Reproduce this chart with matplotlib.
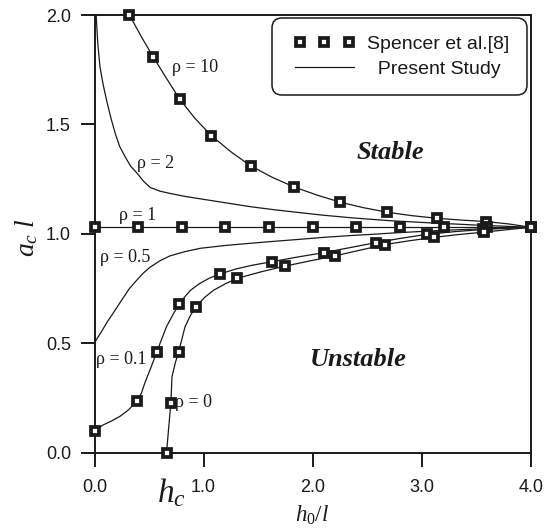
import matplotlib
matplotlib.use('Agg')
import matplotlib.pyplot as plt
from matplotlib.lines import Line2D
from matplotlib.legend_handler import HandlerLine2D

plt.rcParams['font.family'] = ['Liberation Sans', 'DejaVu Sans']
plt.rcParams['mathtext.fontset'] = 'custom'
plt.rcParams['mathtext.it'] = 'Liberation Serif:italic'
plt.rcParams['mathtext.rm'] = 'Liberation Serif'
plt.rcParams['mathtext.bf'] = 'Liberation Serif:bold'

# ---------------- data ----------------
x_ticks = [0.0, 1.0, 2.0, 3.0, 4.0]
y_ticks = [0.0, 0.5, 1.0, 1.5, 2.0]

# Spencer et al. [8] (square markers)
sp10_x = [0.32, 0.54, 0.78, 1.07, 1.43, 1.83, 2.25, 2.68, 3.14, 3.59, 4.0]
sp10_y = [2.00, 1.807, 1.616, 1.449, 1.311, 1.214, 1.145, 1.099, 1.071, 1.056, 1.03]
sp1_x = [0.0, 0.4, 0.8, 1.2, 1.6, 2.0, 2.4, 2.8, 3.2, 3.6, 4.0]
sp1_y = [1.03, 1.03, 1.03, 1.03, 1.03, 1.03, 1.03, 1.03, 1.03, 1.03, 1.03]
sp01_x = [0.0, 0.39, 0.57, 0.775, 1.15, 1.63, 2.10, 2.58, 3.05, 3.56, 4.0]
sp01_y = [0.10, 0.236, 0.459, 0.678, 0.817, 0.873, 0.914, 0.960, 0.998, 1.020, 1.03]
sp0_x = [0.66, 0.70, 0.77, 0.93, 1.31, 1.75, 2.20, 2.66, 3.11, 3.57, 4.0]
sp0_y = [0.0, 0.228, 0.459, 0.667, 0.797, 0.853, 0.899, 0.951, 0.984, 1.008, 1.03]

# Present Study (solid lines)
ps10_x = [0.32, 0.43, 0.54, 0.66, 0.78, 0.92, 1.07, 1.25, 1.43, 1.63, 1.83, 2.04, 2.25,
          2.46, 2.68, 2.91, 3.14, 3.36, 3.59, 3.8, 4.0]
ps10_y = [2.00, 1.90, 1.807, 1.71, 1.616, 1.528, 1.449, 1.375, 1.311, 1.258, 1.214, 1.177,
          1.145, 1.12, 1.099, 1.083, 1.071, 1.063, 1.056, 1.045, 1.03]
ps2_x = [0.015, 0.03, 0.05, 0.08, 0.11, 0.15, 0.19, 0.23, 0.28, 0.33, 0.39, 0.45, 0.51, 0.6,
         0.69, 0.83, 0.97, 1.2, 1.43, 1.65, 1.88, 2.1, 2.34, 2.52, 2.71, 2.9, 3.08, 3.3, 3.5,
         3.75, 4.0]
ps2_y = [2.00, 1.87, 1.764, 1.68, 1.612, 1.53, 1.459, 1.40, 1.353, 1.31, 1.277, 1.24, 1.212,
         1.195, 1.185, 1.171, 1.160, 1.142, 1.124, 1.110, 1.097, 1.085, 1.074, 1.067, 1.060,
         1.055, 1.050, 1.045, 1.040, 1.035, 1.03]
ps1_x = [0.0, 4.0]
ps1_y = [1.03, 1.03]
ps05_x = [0.0, 0.06, 0.12, 0.19, 0.25, 0.32, 0.39, 0.45, 0.51, 0.6, 0.69, 0.83, 0.97, 1.2,
          1.43, 1.65, 1.88, 2.1, 2.34, 2.55, 2.77, 3.0, 3.2, 3.4, 3.6, 3.8, 4.0]
ps05_y = [0.503, 0.55, 0.60, 0.652, 0.698, 0.75, 0.79, 0.822, 0.848, 0.877, 0.899, 0.919,
          0.934, 0.947, 0.957, 0.966, 0.975, 0.984, 0.992, 0.998, 1.005, 1.011, 1.016, 1.020,
          1.024, 1.027, 1.03]
ps01_x = [0.0, 0.08, 0.16, 0.23, 0.31, 0.39, 0.43, 0.46, 0.52, 0.57, 0.62, 0.66, 0.72,
          0.775, 0.83, 0.88, 0.96, 1.05, 1.15, 1.3, 1.45, 1.63, 1.86, 2.10, 2.34, 2.58, 2.8,
          3.05, 3.3, 3.56, 3.8, 4.0]
ps01_y = [0.10, 0.127, 0.146, 0.165, 0.195, 0.236, 0.272, 0.317, 0.393, 0.459, 0.525, 0.576,
          0.632, 0.678, 0.714, 0.742, 0.772, 0.797, 0.817, 0.840, 0.857, 0.873, 0.894, 0.914,
          0.937, 0.960, 0.979, 0.998, 1.010, 1.020, 1.026, 1.03]
ps0_x = [0.66, 0.68, 0.70, 0.71, 0.74, 0.77, 0.83, 0.88, 0.93, 1.01, 1.09, 1.2, 1.31, 1.53,
         1.75, 1.98, 2.20, 2.43, 2.66, 2.88, 3.11, 3.34, 3.57, 3.8, 4.0]
ps0_y = [0.0, 0.115, 0.228, 0.347, 0.41, 0.459, 0.576, 0.628, 0.667, 0.71, 0.742, 0.772,
         0.797, 0.827, 0.853, 0.877, 0.899, 0.925, 0.951, 0.968, 0.984, 0.997, 1.008, 1.02, 1.03]

rho_labels = ['\u03c1 = 10', '\u03c1 = 2', '\u03c1 = 1', '\u03c1 = 0.5', '\u03c1 = 0.1', '\u03c1 = 0']
rho_label_x = [0.71, 0.39, 0.22, 0.05, 0.015, 0.74]
rho_label_y = [1.762, 1.323, 1.086, 0.89, 0.427, 0.228]

legend_labels = ['Spencer et al.[8]', '  Present Study']

# ---------------- figure ----------------
W, H = 554, 530
fig = plt.figure(figsize=(W / 100, H / 100), dpi=100)
L, R, T, B = 94.5, 531.0, 15.0, 452.7
ax = fig.add_axes([L / W, 1 - B / H, (R - L) / W, (B - T) / H])
ax.set_xlim(0, 4)
ax.set_ylim(0, 2)

ink = '#1a1a1a'
lw_line = 0.9
for xs, ys in [(ps10_x, ps10_y), (ps2_x, ps2_y), (ps1_x, ps1_y), (ps05_x, ps05_y),
               (ps01_x, ps01_y), (ps0_x, ps0_y)]:
    ax.plot(xs, ys, color=ink, lw=lw_line, zorder=2)

mk = dict(ls='none', marker='s', ms=5.4, mfc='white', mec=ink, mew=2.7, clip_on=False, zorder=4)
for xs, ys in [(sp10_x, sp10_y), (sp1_x, sp1_y), (sp01_x, sp01_y), (sp0_x, sp0_y)]:
    ax.plot(xs, ys, **mk)

for s, x, y in zip(rho_labels, rho_label_x, rho_label_y):
    ax.text(x, y, s, fontsize=13, family='Liberation Serif', color=ink,
            ha='left', va='center', zorder=5)

ax.text(2.71, 1.37, 'Stable', fontsize=19, family='Liberation Serif', weight='bold',
        style='italic', color=ink, ha='center', va='center')
ax.text(2.42, 0.424, 'Unstable', fontsize=19, family='Liberation Serif', weight='bold',
        style='italic', color=ink, ha='center', va='center')

# axis labels
ax.text(1.838, -0.317, r'$h_0/l$', fontsize=16.5, color=ink, ha='left', va='baseline',
        clip_on=False)
ax.text(0.573, -0.224, r'$h_c$', fontsize=24, color=ink, ha='left', va='baseline',
        clip_on=False)
ax.text(-0.619, 0.981, r'$a_c\ l$', fontsize=20, color=ink, ha='center', va='center',
        rotation=90, clip_on=False)

# spines & ticks
for sp in ax.spines.values():
    sp.set_linewidth(1.4)
    sp.set_color(ink)
ax.set_xticks(x_ticks)
ax.set_yticks(y_ticks)
ax.set_xticklabels(['%.1f' % v for v in x_ticks])
ax.set_yticklabels(['%.1f' % v for v in y_ticks])
ax.tick_params(axis='both', direction='out', length=10, width=1.4, color=ink,
               labelsize=13, labelcolor=ink)
ax.tick_params(axis='x', pad=9)
ax.tick_params(axis='y', pad=7)

# legend
h1 = Line2D([], [], ls='none', marker='s', ms=5.4, mfc='white', mec=ink, mew=2.7)
h2 = Line2D([], [], color=ink, lw=lw_line)
leg = ax.legend([h1, h2], legend_labels, loc='upper right',
                bbox_to_anchor=((527 - L) / (R - L), (B - 18) / (B - T)),
                borderaxespad=0, numpoints=3, handlelength=3.6, handletextpad=0.4,
                borderpad=0.9, labelspacing=0.35, fontsize=14, frameon=True,
                fancybox=True, framealpha=1, edgecolor=ink,
                handler_map={h1: HandlerLine2D(marker_pad=0.55)})
leg.get_frame().set_linewidth(1.1)
leg.get_frame().set_boxstyle('round,pad=0,rounding_size=0.5')
for t in leg.get_texts():
    t.set_color(ink)

fig.savefig('out.png', dpi=100)
